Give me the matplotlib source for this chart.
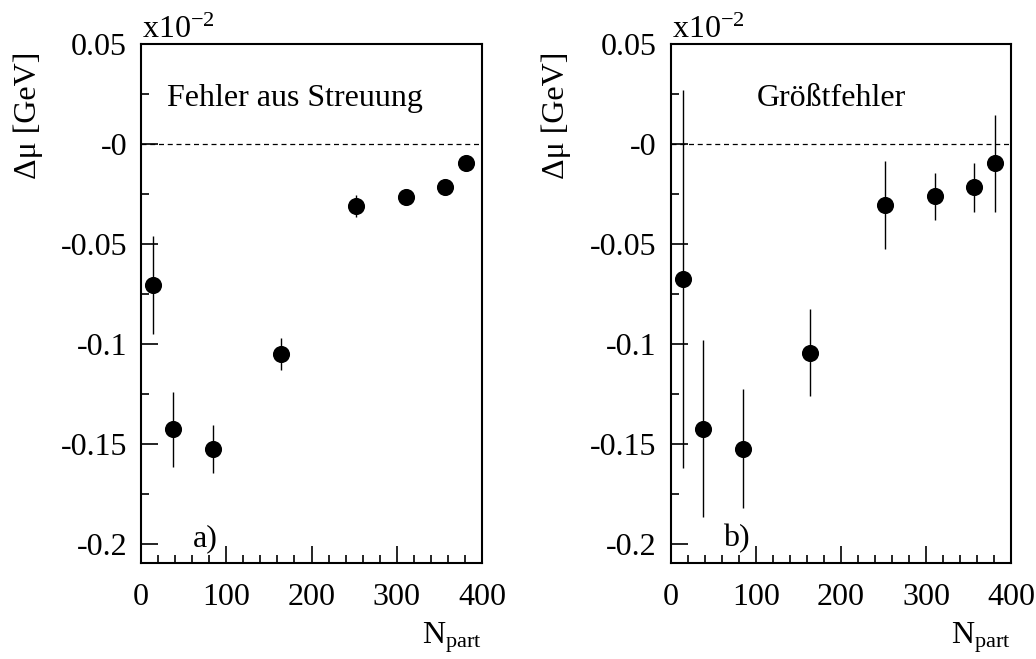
import numpy as np
import matplotlib.pyplot as plt
from matplotlib.ticker import MultipleLocator, FixedLocator

plt.rcParams['font.family'] = ['Liberation Serif', 'DejaVu Serif']
plt.rcParams['mathtext.fontset'] = 'custom'
plt.rcParams['mathtext.rm'] = 'Liberation Serif'
plt.rcParams['mathtext.it'] = 'Liberation Serif'

npart = [14, 38, 85, 164, 252, 311, 356, 381]

dmu_a = [-0.0705, -0.1427, -0.1523, -0.1047, -0.0307, -0.0263, -0.0212, -0.0095]
err_a = [0.0244, 0.019, 0.012, 0.008, 0.0055, 0.0, 0.0, 0.0]

dmu_b = [-0.0672, -0.1423, -0.1523, -0.1043, -0.0305, -0.026, -0.0215, -0.0095]
err_b = [0.0946, 0.0442, 0.0297, 0.0217, 0.022, 0.0117, 0.0122, 0.0243]

titles = ['Fehler aus Streuung', 'Größtfehler']
tags = ['a)', 'b)']
ytick_vals = [0.05, 0.0, -0.05, -0.1, -0.15, -0.2]
ytick_labels = ['0.05', '-0', '-0.05', '-0.1', '-0.15', '-0.2']

fig = plt.figure(figsize=(10.36, 6.59), dpi=100)
ax1 = fig.add_axes([0.1361, 0.1452, 0.3292, 0.7873])
ax2 = fig.add_axes([0.6474, 0.1452, 0.3285, 0.7873])

fs = 23
panels = [(ax1, dmu_a, err_a, 0.076, 0.027), (ax2, dmu_b, err_b, 0.253, 0.537)]
for i, (ax, y, e, txt_x, ylab_x) in enumerate(panels):
    ax.errorbar(npart, y, yerr=e, fmt='o', color='black', ms=11.3,
                elinewidth=1.0, capsize=0, zorder=3)
    ax.axhline(0, color='black', lw=0.9, ls=(0, (4, 3)), zorder=1)
    ax.set_xlim(0, 400)
    ax.set_ylim(-0.2097, 0.05)
    ax.xaxis.set_major_locator(FixedLocator([0, 100, 200, 300, 400]))
    ax.xaxis.set_minor_locator(MultipleLocator(20))
    ax.set_yticks(ytick_vals)
    ax.set_yticklabels(ytick_labels)
    ax.yaxis.set_minor_locator(MultipleLocator(0.025))
    ax.tick_params(which='both', direction='in', top=False, right=False,
                   labelsize=fs, width=1.2)
    ax.tick_params(axis='y', which='major', length=12.5, pad=10)
    ax.tick_params(axis='x', which='major', length=12.5, pad=14)
    ax.tick_params(which='minor', length=6)
    for s in ax.spines.values():
        s.set_linewidth(1.5)
    ax.text(txt_x, 0.882, titles[i], transform=ax.transAxes,
            fontsize=fs, ha='left', va='baseline')
    ax.text(0.153 if i == 0 else 0.155, 0.033, tags[i], transform=ax.transAxes,
            fontsize=fs, ha='left', va='baseline')
    ax.text(0.003, 1.012, r'x10$^{\mathregular{-2}}$', transform=ax.transAxes,
            fontsize=fs, ha='left', va='baseline')
    ax.text(1.0, -0.155, r'N$_{\mathregular{part}}$', transform=ax.transAxes,
            fontsize=fs, ha='right', va='baseline')
    fig.text(ylab_x, 0.825, 'Δμ [GeV]',
             rotation=90, fontsize=fs, ha='center', va='center')

fig.savefig('out.png', dpi=100)
